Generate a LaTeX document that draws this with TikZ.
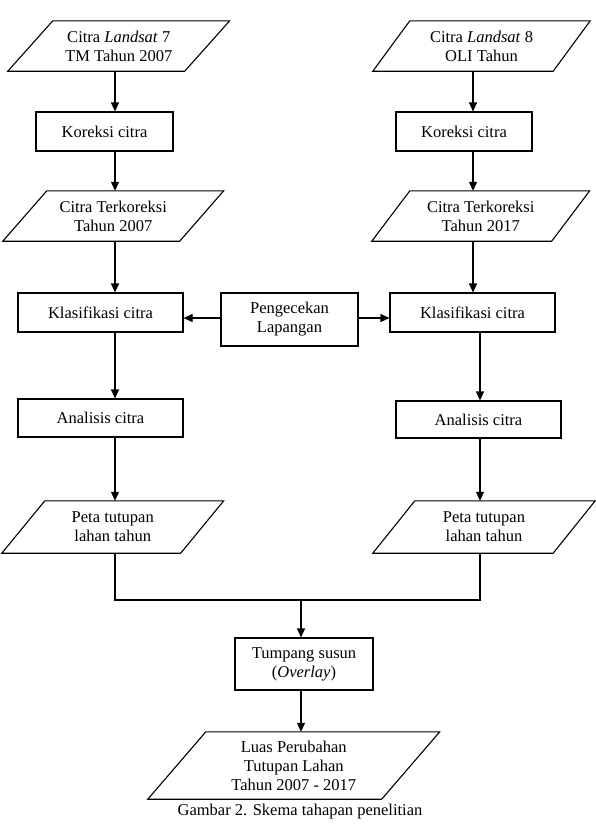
\documentclass[tikz,border=0pt]{standalone}
\usepackage{fontspec}
\setmainfont{Liberation Serif}
\usetikzlibrary{arrows.meta}
\newcommand{\fs}{\fontsize{16.5}{19}\selectfont}
\newcommand{\pgram}[2]{\draw[ln] ([xshift=#2pt]#1.north west) -- ([xshift=#2pt]#1.north east) -- ([xshift=-#2pt]#1.south east) -- ([xshift=-#2pt]#1.south west) -- cycle;}
\tikzset{
  box/.style={draw, line width=1.1pt, align=center, inner sep=0pt, font=\fs},
  ptxt/.style={align=center, inner sep=0pt, font=\fs},
  arr/.style={line width=1.1pt, -{Triangle[length=9pt,width=8pt]}},
  ln/.style={line width=1.1pt}
}
\begin{document}
\begin{tikzpicture}[x=1pt,y=-1pt]
\useasboundingbox (0,0) rectangle (596,825);
% column coordinates
\coordinate (cl) at (115,0);
\coordinate (cr) at (473,0);
\coordinate (cr2) at (480,0);
\coordinate (cm) at (301,0);
\coordinate (hy) at (0,318);
\coordinate (my) at (0,600);
% left column
\node[ptxt, minimum width=176.5pt, minimum height=50pt] (p1) at (118.75,46) {Citra \textit{Landsat} 7\\TM Tahun 2007};
\pgram{p1}{22.5}
\node[box, minimum width=137pt, minimum height=39pt] (k1) at (104.5,131.5) {Koreksi citra};
\node[ptxt, minimum width=176.5pt, minimum height=50pt] (p2) at (113.25,216) {Citra Terkoreksi\\Tahun 2007};
\pgram{p2}{22}
\node[box, minimum width=165pt, minimum height=39pt] (kl1) at (100.5,312.5) {Klasifikasi citra};
\node[box, minimum width=165pt, minimum height=38pt] (an1) at (100.5,418) {Analisis citra};
\node[ptxt, minimum width=178.5pt, minimum height=52pt] (pt1) at (112.75,527) {Peta tutupan\\lahan tahun};
\pgram{pt1}{21.5}
% right column
\node[ptxt, minimum width=180pt, minimum height=50pt] (p3) at (481.5,46) {Citra \textit{Landsat} 8\\OLI Tahun};
\pgram{p3}{18.5}
\node[box, minimum width=136pt, minimum height=39pt] (k2) at (464,131.5) {Koreksi citra};
\node[ptxt, minimum width=179.5pt, minimum height=50pt] (p4) at (480.75,216) {Citra Terkoreksi\\Tahun 2017};
\pgram{p4}{19}
\node[box, minimum width=165pt, minimum height=39pt] (kl2) at (472.5,312.5) {Klasifikasi citra};
\node[box, minimum width=165pt, minimum height=37pt] (an2) at (478.5,419.5) {Analisis citra};
\node[ptxt, minimum width=180pt, minimum height=52pt] (pt2) at (484,527) {Peta tutupan\\lahan tahun};
\pgram{pt2}{21}
% middle
\node[box, minimum width=137pt, minimum height=53pt] (pc) at (289.5,319.5) {Pengecekan\\Lapangan};
\node[box, minimum width=138pt, minimum height=52pt] (tp) at (304,664) {Tumpang susun\\(\textit{Overlay})};
\node[ptxt, minimum width=233.5pt, minimum height=67pt] (luas) at (293.75,765.5) {Luas Perubahan\\Tutupan Lahan\\Tahun 2007 - 2017};
\pgram{luas}{29}
\node[ptxt] (cap) at (300,812) {Gambar 2. Skema tahapan penelitian};
% arrows left
\draw[arr] (p1.south -| cl) -- (k1.north -| cl);
\draw[arr] (k1.south -| cl) -- (p2.north -| cl);
\draw[arr] (p2.south -| cl) -- (kl1.north -| cl);
\draw[arr] (kl1.south -| cl) -- (an1.north -| cl);
\draw[arr] (an1.south -| cl) -- (pt1.north -| cl);
% arrows right
\draw[arr] (p3.south -| cr) -- (k2.north -| cr);
\draw[arr] (k2.south -| cr) -- (p4.north -| cr);
\draw[arr] (p4.south -| cr) -- (kl2.north -| cr);
\draw[arr] (kl2.south -| cr2) -- (an2.north -| cr2);
\draw[arr] (an2.south -| cr2) -- (pt2.north -| cr2);
% field check
\draw[arr] (pc.west |- hy) -- (kl1.east |- hy);
\draw[arr] (pc.east |- hy) -- (kl2.west |- hy);
% merge
\draw[ln] (pt1.south -| cl) -- (cl |- my) -- (cr2 |- my) -- (pt2.south -| cr2);
\draw[arr] (cm |- my) -- (tp.north -| cm);
\draw[arr] (tp.south -| cm) -- (luas.north -| cm);
\end{tikzpicture}
\end{document}
